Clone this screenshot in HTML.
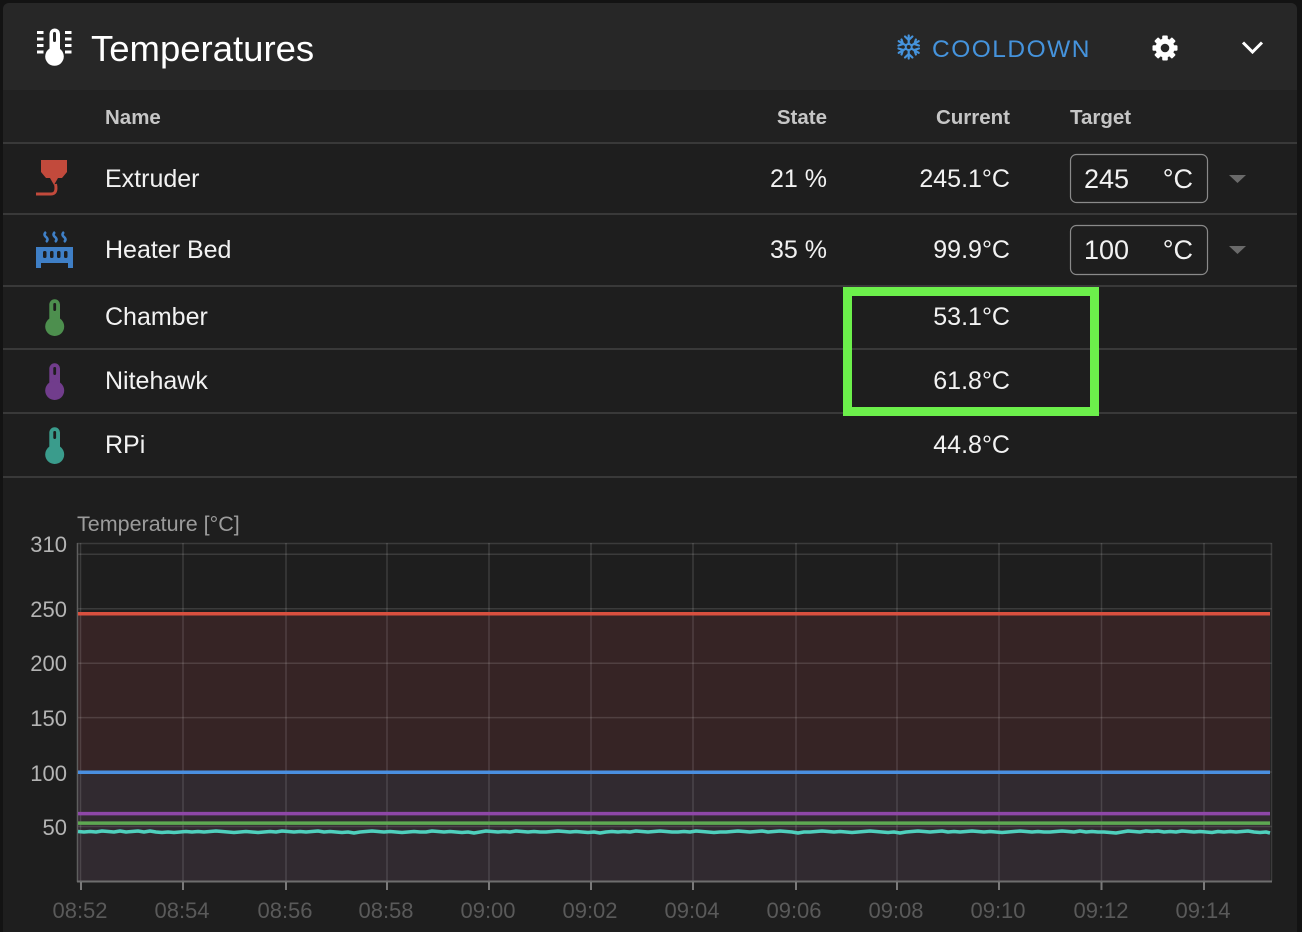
<!DOCTYPE html>
<html>
<head>
<meta charset="utf-8">
<style>
html,body{margin:0;padding:0;background:#131313;}
body{width:1302px;height:932px;overflow:hidden;position:relative;}
svg{position:absolute;left:0;top:0;font-family:"Liberation Sans",Arial,sans-serif;}
</style>
</head>
<body>
<svg width="1302" height="932" viewBox="0 0 1302 932" xmlns="http://www.w3.org/2000/svg">
  <!-- page & panel -->
  <rect x="0" y="0" width="1302" height="932" fill="#131313"/>
  <rect x="3" y="3" width="1294" height="960" rx="6" fill="#1e1e1e"/>
  <rect x="3" y="3" width="1294" height="87" rx="6" fill="#272727"/>
  <rect x="3" y="20" width="1294" height="70" fill="#272727"/>
  <rect x="3" y="90" width="1294" height="53" fill="#212121"/>

  <!-- separators -->
  <g fill="#393939">
    <rect x="3" y="142" width="1294" height="2"/>
    <rect x="3" y="213" width="1294" height="2"/>
    <rect x="3" y="285" width="1294" height="2"/>
    <rect x="3" y="348" width="1294" height="2"/>
    <rect x="3" y="412" width="1294" height="2"/>
    <rect x="3" y="476" width="1294" height="2"/>
  </g>

  <!-- title icon -->
  <g fill="#ffffff">
    <rect x="49.5" y="28.5" width="10.5" height="26" rx="5.2"/>
    <circle cx="54.5" cy="56.5" r="9.3"/>
    <rect x="37" y="31" width="6.5" height="3"/>
    <rect x="37" y="37.5" width="6.5" height="3"/>
    <rect x="37" y="44" width="6.5" height="3"/>
    <rect x="37" y="50.5" width="6.5" height="3"/>
    <rect x="65" y="31" width="6.5" height="3"/>
    <rect x="65" y="37.5" width="6.5" height="3"/>
    <rect x="65" y="44" width="6.5" height="3"/>
    <rect x="65" y="50.5" width="6.5" height="3"/>
  </g>
  <rect x="53" y="32" width="3" height="10" rx="1.5" fill="#272727"/>
  <text x="91" y="61" font-size="36.5" fill="#ffffff">Temperatures</text>

  <!-- cooldown -->
  <g stroke="#4593dc" stroke-width="2.2" fill="none" stroke-linecap="round">
    <line x1="908.7" y1="35.5" x2="908.7" y2="58.5"/>
    <line x1="898.7" y1="41.2" x2="918.7" y2="52.8"/>
    <line x1="898.7" y1="52.8" x2="918.7" y2="41.2"/>
    <polyline points="905,36.5 908.7,40 912.4,36.5"/>
    <polyline points="905,57.5 908.7,54 912.4,57.5"/>
    <polyline points="898.5,45.5 903,44 901.5,39.5"/>
    <polyline points="918.9,48.5 914.4,50 915.9,54.5"/>
    <polyline points="898.5,48.5 903,50 901.5,54.5"/>
    <polyline points="918.9,45.5 914.4,44 915.9,39.5"/>
  </g>
  <circle cx="908.7" cy="47" r="3" fill="#272727" stroke="#4593dc" stroke-width="2"/>
  <text x="932" y="57" font-size="24.5" letter-spacing="1.5" fill="#4593dc">COOLDOWN</text>

  <!-- gear -->
  <g fill="#ffffff" transform="translate(1165,48)">
    <circle cx="0" cy="0" r="9.5"/>
    <rect x="-2.8" y="-12.5" width="5.6" height="25" rx="1"/>
    <rect x="-2.8" y="-12.5" width="5.6" height="25" rx="1" transform="rotate(45)"/>
    <rect x="-2.8" y="-12.5" width="5.6" height="25" rx="1" transform="rotate(90)"/>
    <rect x="-2.8" y="-12.5" width="5.6" height="25" rx="1" transform="rotate(135)"/>
  </g>
  <circle cx="1165" cy="48" r="4.3" fill="#272727"/>

  <!-- chevron -->
  <polyline points="1243,42.5 1252.5,52 1262,42.5" fill="none" stroke="#ffffff" stroke-width="3"/>

  <!-- table header -->
  <g font-size="20.5" font-weight="bold" fill="#c6c6c6">
    <text x="105" y="124">Name</text>
    <text x="827" y="124" text-anchor="end">State</text>
    <text x="1010" y="124" text-anchor="end">Current</text>
    <text x="1070" y="124">Target</text>
  </g>

  <!-- extruder icon -->
  <polygon points="41,160 67,160 67,172 62,178 58,178 54,185 50,178 46,178 41,172" fill="#c24a3c"/>
  <path d="M55.5,184 Q57.5,194 51,194 L36,194" fill="none" stroke="#c24a3c" stroke-width="3"/>

  <!-- heater bed icon -->
  <g fill="none" stroke="#3f7fc6" stroke-width="2.6">
    <path d="M46,232 q-3,2.5 0,5 q3,2.5 0,5"/>
    <path d="M55,232 q-3,2.5 0,5 q3,2.5 0,5"/>
    <path d="M64,232 q-3,2.5 0,5 q3,2.5 0,5"/>
  </g>
  <path d="M36,247 L73,247 L73,268 L68,268 L68,263 L41,263 L41,268 L36,268 Z" fill="#3f7fc6"/>
  <g fill="#1e1e1e">
    <rect x="43" y="251" width="3.5" height="7" rx="1.5"/>
    <rect x="50" y="251" width="3.5" height="7" rx="1.5"/>
    <rect x="57" y="251" width="3.5" height="7" rx="1.5"/>
    <rect x="64" y="251" width="3.5" height="7" rx="1.5"/>
  </g>

  <!-- thermometers -->
  <g fill="#4d8f4e">
    <rect x="49.3" y="299.3" width="10.7" height="25" rx="5.3"/>
    <circle cx="54.7" cy="326.5" r="9.5"/>
  </g>
  <rect x="53.3" y="303" width="2.8" height="8" rx="1.2" fill="#1e1e1e"/>
  <g fill="#713d8c">
    <rect x="49.3" y="363.3" width="10.7" height="25" rx="5.3"/>
    <circle cx="54.7" cy="390.5" r="9.5"/>
  </g>
  <rect x="53.3" y="367" width="2.8" height="8" rx="1.2" fill="#1e1e1e"/>
  <g fill="#3a9c8c">
    <rect x="49.3" y="427.3" width="10.7" height="25" rx="5.3"/>
    <circle cx="54.7" cy="454.5" r="9.5"/>
  </g>
  <rect x="53.3" y="431" width="2.8" height="8" rx="1.2" fill="#1e1e1e"/>

  <!-- row texts -->
  <g font-size="25" fill="#f2f2f2">
    <text x="105" y="187">Extruder</text>
    <text x="105" y="258">Heater Bed</text>
    <text x="105" y="325">Chamber</text>
    <text x="105" y="389">Nitehawk</text>
    <text x="105" y="453">RPi</text>
    <text x="827" y="187" text-anchor="end">21 %</text>
    <text x="827" y="258" text-anchor="end">35 %</text>
    <text x="1010" y="187" text-anchor="end">245.1°C</text>
    <text x="1010" y="258" text-anchor="end">99.9°C</text>
    <text x="1010" y="325" text-anchor="end">53.1°C</text>
    <text x="1010" y="389" text-anchor="end">61.8°C</text>
    <text x="1010" y="453" text-anchor="end">44.8°C</text>
  </g>

  <!-- target inputs -->
  <rect x="1070.5" y="154.5" width="137" height="48" rx="6" fill="none" stroke="#8a8a8a" stroke-width="1.2"/>
  <rect x="1070.5" y="225.5" width="137" height="49" rx="6" fill="none" stroke="#8a8a8a" stroke-width="1.2"/>
  <g font-size="27" fill="#f2f2f2">
    <text x="1084" y="188">245</text>
    <text x="1193" y="188" text-anchor="end">°C</text>
    <text x="1084" y="259">100</text>
    <text x="1193" y="259" text-anchor="end">°C</text>
  </g>
  <polygon points="1229,175 1246,175 1237.5,183" fill="#6a6a6a"/>
  <polygon points="1229,246 1246,246 1237.5,254" fill="#6a6a6a"/>

  <!-- green highlight -->
  <rect x="847.5" y="291.5" width="247" height="120" fill="none" stroke="#6cef4b" stroke-width="9"/>

  <!-- chart -->
  <text x="77" y="531" font-size="21.5" fill="#9c9c9c">Temperature [°C]</text>
  <g font-size="22" fill="#b4b4b4" text-anchor="end">
    <text x="67" y="552">310</text>
    <text x="67" y="617">250</text>
    <text x="67" y="671">200</text>
    <text x="67" y="726">150</text>
    <text x="67" y="781">100</text>
    <text x="67" y="835">50</text>
  </g>

  <!-- fills -->
  <rect x="78" y="614" width="1192" height="158" fill="#362425"/>
  <rect x="78" y="772" width="1192" height="109" fill="#312a30"/>

  <!-- grid -->
  <g stroke="rgba(255,255,255,0.13)" stroke-width="1.5">
    <line x1="77" y1="543.5" x2="1271.5" y2="543.5"/>
    <line x1="77" y1="554.3" x2="1271.5" y2="554.3"/>
    <line x1="77" y1="608.8" x2="1271.5" y2="608.8"/>
    <line x1="77" y1="663.2" x2="1271.5" y2="663.2"/>
    <line x1="77" y1="717.6" x2="1271.5" y2="717.6"/>
    <line x1="77" y1="772" x2="1271.5" y2="772"/>
    <line x1="77" y1="826.5" x2="1271.5" y2="826.5"/>
    <line x1="80.5" y1="543" x2="80.5" y2="881"/>
    <line x1="183" y1="543" x2="183" y2="881"/>
    <line x1="286" y1="543" x2="286" y2="881"/>
    <line x1="387" y1="543" x2="387" y2="881"/>
    <line x1="489" y1="543" x2="489" y2="881"/>
    <line x1="591" y1="543" x2="591" y2="881"/>
    <line x1="693" y1="543" x2="693" y2="881"/>
    <line x1="796" y1="543" x2="796" y2="881"/>
    <line x1="897" y1="543" x2="897" y2="881"/>
    <line x1="999" y1="543" x2="999" y2="881"/>
    <line x1="1101.5" y1="543" x2="1101.5" y2="881"/>
    <line x1="1204" y1="543" x2="1204" y2="881"/>
    <line x1="1271.5" y1="543" x2="1271.5" y2="881"/>
  </g>
  <line x1="77.5" y1="543" x2="77.5" y2="882" stroke="#5e5e5e" stroke-width="1.5"/>
  <line x1="77" y1="881.5" x2="1272" y2="881.5" stroke="#6e6e6e" stroke-width="2"/>
  <g stroke="#7a7a7a" stroke-width="2">
    <line x1="81" y1="882" x2="81" y2="890"/>
    <line x1="183" y1="882" x2="183" y2="890"/>
    <line x1="286" y1="882" x2="286" y2="890"/>
    <line x1="387" y1="882" x2="387" y2="890"/>
    <line x1="489" y1="882" x2="489" y2="890"/>
    <line x1="591" y1="882" x2="591" y2="890"/>
    <line x1="693" y1="882" x2="693" y2="890"/>
    <line x1="796" y1="882" x2="796" y2="890"/>
    <line x1="897" y1="882" x2="897" y2="890"/>
    <line x1="999" y1="882" x2="999" y2="890"/>
    <line x1="1101.5" y1="882" x2="1101.5" y2="890"/>
    <line x1="1204" y1="882" x2="1204" y2="890"/>
  </g>

  <!-- series -->
  <line x1="78" y1="613.8" x2="1270" y2="613.8" stroke="#d9503f" stroke-width="3.5"/>
  <line x1="78" y1="772.2" x2="1270" y2="772.2" stroke="#4a8fe0" stroke-width="3.5"/>
  <line x1="78" y1="813.6" x2="1270" y2="813.6" stroke="#8e47a8" stroke-width="3.5"/>
  <line x1="78" y1="823.1" x2="1270" y2="823.1" stroke="#5ea852" stroke-width="3.5"/>
  <polyline fill="none" stroke="#4fd0bd" stroke-width="3.5" stroke-linejoin="round" points="78,831.5 84,832 90,831.5 96,832 102,831 108,831.5 114,832 120,831 126,832 132,831.5 138,831 144,832 150,831 156,832 162,832.5 168,832 174,832.5 180,832 186,831.5 192,832 198,831.5 204,832 210,831.5 216,831 222,831.5 228,832 234,832.5 240,832 246,831.5 252,832 258,832.5 264,832 270,831.5 276,832 282,831 288,831.5 294,832 300,831.5 306,832 312,831.5 318,831 324,832 330,831.5 336,832 342,832.5 348,832 354,833 360,832 366,831.5 372,831 378,831.5 384,832 390,831.5 396,832 402,832.5 408,832 414,831.5 420,832 426,832 432,831 438,831.5 444,832 450,831.5 456,832 462,832.5 468,832 474,833 480,832 486,831 492,831.5 498,832 504,831.5 510,832 516,831 522,831.5 528,832 534,831.5 540,832 546,832 552,831.5 558,831 564,831.5 570,832 576,831.5 582,832 588,832.5 594,832 600,833 606,832 612,831.5 618,832 624,831.5 630,832 636,831 642,831.5 648,832 654,831.5 660,831 666,831.5 672,832 678,832 684,831.5 690,832 696,831 702,831.5 708,832 714,832.5 720,832 726,832 732,831.5 738,831 744,831.5 750,832 756,831.5 762,831 768,832 774,831.5 780,831 786,831.5 792,832 798,833 804,832 810,832 816,831.5 822,831 828,831.5 834,832 840,831.5 846,832 852,832.5 858,832 864,831.5 870,831 876,831.5 882,832 888,832.5 894,832 900,833 906,832 912,831.5 918,831 924,831.5 930,832 936,831.5 942,831 948,832 954,831.5 960,832 966,831.5 972,831 978,831.5 984,832 990,831.5 996,832 1002,832.5 1008,832 1014,831.5 1020,831 1026,831.5 1032,832 1038,831.5 1044,832 1050,832 1056,831.5 1062,831 1068,831.5 1074,832 1080,831 1086,832 1092,831.5 1098,832 1104,832 1110,832.5 1116,833 1122,832 1128,831 1134,831.5 1140,832 1146,831 1152,831.5 1158,831 1164,832 1170,831.5 1176,832 1182,831 1188,831.5 1194,832 1200,831.5 1206,832 1212,832.5 1218,831.5 1224,832 1230,831.5 1236,832 1242,831.5 1248,831 1254,832 1260,832.5 1266,832 1270,833"/>

  <!-- x labels -->
  <g font-size="22" fill="#5a5a5a" text-anchor="middle">
    <text x="80" y="918">08:52</text>
    <text x="182" y="918">08:54</text>
    <text x="285" y="918">08:56</text>
    <text x="386" y="918">08:58</text>
    <text x="488" y="918">09:00</text>
    <text x="590" y="918">09:02</text>
    <text x="692" y="918">09:04</text>
    <text x="794" y="918">09:06</text>
    <text x="896" y="918">09:08</text>
    <text x="998" y="918">09:10</text>
    <text x="1101" y="918">09:12</text>
    <text x="1203" y="918">09:14</text>
  </g>
</svg>
</body>
</html>
